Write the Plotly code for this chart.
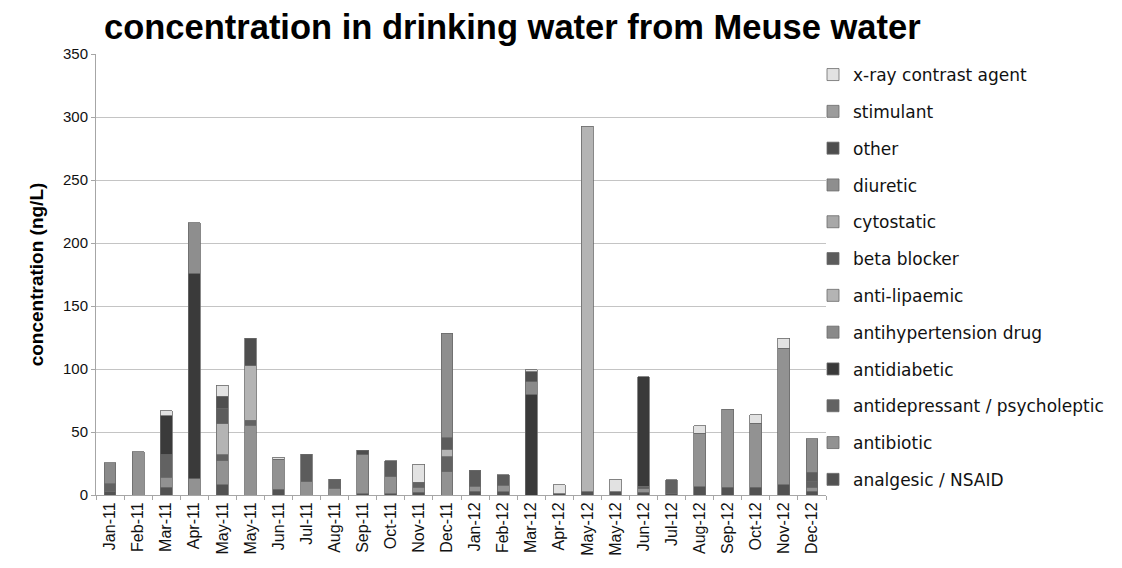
import plotly.graph_objects as go

months = ["Jan-11", "Feb-11", "Mar-11", "Apr-11", "May-11", "May-11", "Jun-11", "Jul-11",
          "Aug-11", "Sep-11", "Oct-11", "Nov-11", "Dec-11", "Jan-12", "Feb-12", "Mar-12",
          "Apr-12", "May-12", "May-12", "Jun-12", "Jul-12", "Aug-12", "Sep-12", "Oct-12",
          "Nov-12", "Dec-12"]

analgesic = [3, 0, 6, 0, 8, 0, 4.5, 0, 0, 1, 1, 2, 0, 3, 2.6, 0, 1, 2.5, 2.5, 2, 1.5, 6.5, 6, 6, 8, 3]
antibiotic = [0, 34.5, 8, 13, 19, 55.5, 24, 10.5, 5.5, 31, 13.5, 4, 18.5, 4, 5.3, 0, 0, 0, 0, 3, 0, 42.5, 62, 51, 108.5, 3]
antidepressant = [6, 0, 18, 0, 5, 4, 0, 0, 7, 0, 0, 4, 12, 0, 0, 0, 0, 0, 0, 2, 10.5, 0, 0, 0, 0, 4.5]
antidiabetic = [0, 0, 31, 163, 0, 0, 0, 0, 0, 0, 0, 0, 0, 0, 0, 80, 0, 0, 0, 87, 0, 0, 0, 0, 0, 0]
antihypertension = [16.5, 0, 0, 0, 0, 0, 0, 0, 0, 0, 0, 0, 0, 0, 0, 10, 0, 0, 0, 0, 0, 0, 0, 0, 0, 0]
anti_lipaemic = [0, 0, 0, 0, 24.5, 43, 0, 0, 0, 0, 0, 0, 6, 0, 0, 0, 0, 290, 0, 0, 0, 0, 0, 0, 0, 0]
beta_blocker = [0, 0, 0, 0, 12, 0, 0, 22, 0, 0, 12.5, 0, 9, 12.5, 8, 0, 0, 0, 0, 0, 0, 0, 0, 0, 0, 7.5]
cytostatic = [0] * 26
diuretic = [0, 0, 0, 40, 0, 0, 0, 0, 0, 0, 0, 0, 83, 0, 0, 0, 0, 0, 0, 0, 0, 0, 0, 0, 0, 26.5]
other = [0, 0, 0, 0, 10, 22, 0, 0, 0, 3.5, 0, 0, 0, 0, 0, 8, 0, 0, 0, 0, 0, 0, 0, 0, 0, 0]
stimulant = [0] * 26
xray = [0, 0, 4, 0, 8.5, 0, 1.5, 0, 0, 0, 0, 14.5, 0, 0, 0, 1.5, 7, 0, 10, 0, 0, 6, 0, 6.5, 8, 0]

series = [
    ("analgesic / NSAID", analgesic, "#525252"),
    ("antibiotic", antibiotic, "#929292"),
    ("antidepressant / psycholeptic", antidepressant, "#626262"),
    ("antidiabetic", antidiabetic, "#3a3a3a"),
    ("antihypertension drug", antihypertension, "#8a8a8a"),
    ("anti-lipaemic", anti_lipaemic, "#b4b4b4"),
    ("beta blocker", beta_blocker, "#5c5c5c"),
    ("cytostatic", cytostatic, "#a8a8a8"),
    ("diuretic", diuretic, "#8e8e8e"),
    ("other", other, "#4e4e4e"),
    ("stimulant", stimulant, "#9c9c9c"),
    ("x-ray contrast agent", xray, "#e2e2e2"),
]

positions = list(range(len(months)))

fig = go.Figure()
n = len(series)
for i, (name, vals, color) in enumerate(series):
    fig.add_trace(go.Bar(
        x=positions,
        y=[v if v else None for v in vals],
        name=name,
        legendgroup=f"g{i}",
        legendrank=100 + (n - i),
        marker=dict(color=color, line=dict(color="#6a6a6a", width=0.8)),
        width=0.42,
    ))

font_main = "Liberation Sans, Arial, sans-serif"

fig.update_layout(
    barmode="stack",
    width=1122,
    height=568,
    margin=dict(l=88, r=304, t=46, b=81),
    paper_bgcolor="white",
    plot_bgcolor="white",
    font=dict(family=font_main, color="#111111", size=15),
    title=dict(
        text="<b>concentration in drinking water from Meuse water</b>",
        x=96 / 1122, xanchor="left", xref="container",
        y=1 - 19 / 568, yanchor="middle", yref="container",
        font=dict(family=font_main, size=34.5, color="#000000"),
    ),
    legend=dict(
        x=0.9822, xanchor="left", y=0.9932, yanchor="top",
        traceorder="grouped",
        tracegroupgap=11.7,
        bgcolor="rgba(0,0,0,0)",
        font=dict(family="DejaVu Sans, sans-serif", size=17, color="#111111"),
        itemwidth=30,
        maxheight=520,
    ),
    xaxis=dict(
        range=[-0.5, len(months) - 0.5],
        tickmode="array",
        tickvals=positions,
        ticktext=months,
        tickangle=-90,
        ticks="",
        showgrid=False,
        showline=True,
        linecolor="#a6a6a6",
        linewidth=1,
        tickfont=dict(family=font_main, size=16, color="#111111"),
        minor=dict(tickmode="linear", tick0=-0.5, dtick=1, ticks="outside",
                   ticklen=4, tickcolor="#a6a6a6", showgrid=False),
        automargin=False,
    ),
    yaxis=dict(
        range=[0, 350],
        tickmode="linear",
        tick0=0,
        dtick=50,
        showgrid=True,
        gridcolor="#c4c4c4",
        gridwidth=1.2,
        showline=True,
        linecolor="#a6a6a6",
        ticks="outside",
        ticklen=4,
        tickcolor="#a6a6a6",
        zeroline=False,
        tickfont=dict(family=font_main, size=15, color="#111111"),
        title=dict(text="<b>concentration (ng/L)</b>", standoff=14,
                   font=dict(family=font_main, size=19, color="#000000")),
        automargin=False,
    ),
    showlegend=True,
)

fig.write_html("out.html")
